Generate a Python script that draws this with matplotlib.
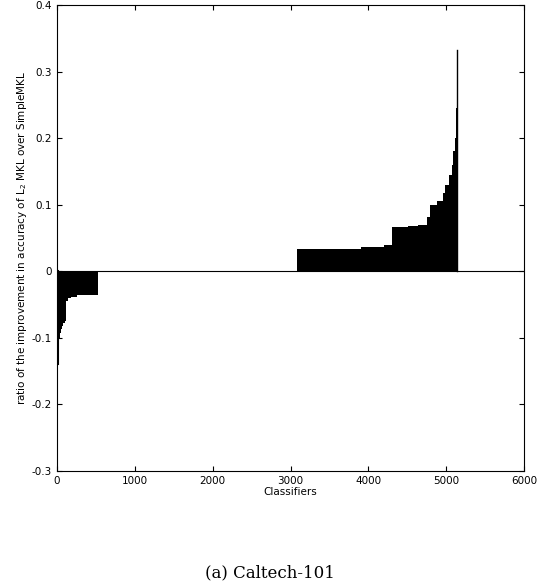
import matplotlib
matplotlib.use("Agg")
import matplotlib.pyplot as plt
import numpy as np

# sorted improvement ratio, as step breakpoints (classifier index, value)
neg_x = [0, 15, 25, 35, 45, 60, 80, 100, 120, 140, 180, 260, 530]
neg_v = [-0.14, -0.115, -0.10, -0.092, -0.086, -0.082, -0.077, -0.074, -0.045, -0.040, -0.038, -0.036, -0.036]
pos_x = [3080, 3500, 3900, 4100, 4200, 4300, 4510, 4640, 4755, 4790, 4880, 4960, 4990, 5030, 5070, 5090, 5110, 5130, 5140, 5150]
pos_v = [0.033, 0.034, 0.036, 0.037, 0.039, 0.066, 0.068, 0.070, 0.081, 0.100, 0.105, 0.117, 0.130, 0.145, 0.160, 0.180, 0.200, 0.245, 0.332, 0.332]

fig = plt.figure(figsize=(5.4, 5.86), dpi=100)
ax = fig.add_axes([57/540, 1-471/586, 467/540, 466/586])
ax.fill_between(neg_x, neg_v, 0, step='post', color='black', linewidth=0)
ax.fill_between(pos_x, pos_v, 0, step='post', color='black', linewidth=0)
ax.plot([pos_x[-2], pos_x[-2]], [0, pos_v[-1]], color='black', lw=1)
ax.plot([neg_x[0] + 8, neg_x[0] + 8], [0, neg_v[0]], color='black', lw=1.5)
ax.axhline(0, color='black', lw=0.8)
ax.set_xlim(0, 6000)
ax.set_ylim(-0.3, 0.4)
ax.set_xticks(range(0, 6001, 1000))
ax.set_yticks(np.arange(-0.3, 0.41, 0.1))
ax.set_yticklabels(['-0.3', '-0.2', '-0.1', '0', '0.1', '0.2', '0.3', '0.4'])
ax.tick_params(direction='in', labelsize=7.5, top=True, right=True)
ax.set_xlabel('Classifiers', fontsize=7.5, labelpad=1)
ax.set_ylabel('ratio of the improvement in accuracy of L$_2$ MKL over SimpleMKL', fontsize=7.5, labelpad=2)
fig.text(0.5, 1-573/586, '(a) Caltech-101', ha='center', va='center', fontsize=12, family='DejaVu Serif')
fig.savefig('out.png', dpi=100)
